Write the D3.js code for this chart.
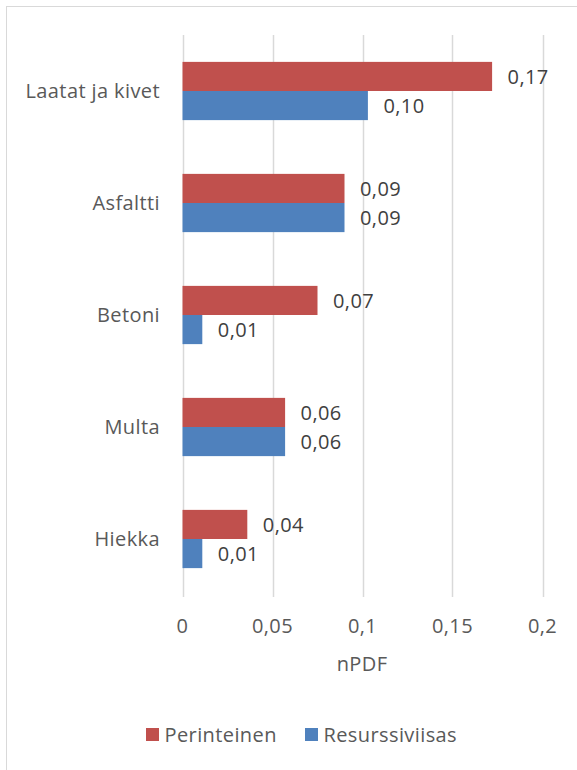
<!DOCTYPE html>
<html><head><meta charset="utf-8">
<script src="https://cdn.jsdelivr.net/npm/d3@7"></script>
<style>body{margin:0;background:#fff;} svg{display:block;}</style>
</head><body>
<script>
const categories = ["Laatat ja kivet", "Asfaltti", "Betoni", "Multa", "Hiekka"];
const perinteinen = [0.172, 0.090, 0.075, 0.057, 0.036];
const resurssiviisas = [0.103, 0.090, 0.011, 0.057, 0.011];
const perLabels = ["0,17", "0,09", "0,07", "0,06", "0,04"];
const resLabels = ["0,10", "0,09", "0,01", "0,06", "0,01"];
const xTicks = [0, 0.05, 0.1, 0.15, 0.2];
const xTickLabels = ["0", "0,05", "0,1", "0,15", "0,2"];
const seriesNames = ["Perinteinen", "Resurssiviisas"];
const colors = ["#C0504D", "#4F81BD"];

const W = 577, H = 770;
const font = "'Open Sans', sans-serif";
const fs = 20;
const ls = 0.4;
const svg = d3.select("body").append("svg").attr("width", W).attr("height", H);
svg.append("rect").attr("x", 6.5).attr("y", 6.5).attr("width", 600).attr("height", 800)
  .attr("fill", "#fff").attr("stroke", "#D9D9D9").attr("stroke-width", 1);

const x = d3.scaleLinear().domain([0, 0.2]).range([182.5, 542.5]);
const y = d3.scaleBand().domain(categories).range([35, 595]).paddingInner(0.48).paddingOuter(0.24);
const ySub = d3.scaleBand().domain(seriesNames).range([0, y.bandwidth()]);

function txt(sel) {
  return sel.attr("font-family", font).attr("font-size", fs).attr("letter-spacing", ls);
}

// gridlines
svg.append("g").selectAll("line").data(xTicks).join("line")
  .attr("x1", d => Math.round(x(d)) + 0.5).attr("x2", d => Math.round(x(d)) + 0.5)
  .attr("y1", 35).attr("y2", 597).attr("stroke", "#D9D9D9").attr("stroke-width", 1.5);

// tick labels
txt(svg.append("g").selectAll("text").data(xTicks).join("text"))
  .attr("x", d => x(d)).attr("y", 633).attr("text-anchor", "middle")
  .attr("fill", "#595959")
  .text((d, i) => xTickLabels[i]);

txt(svg.append("text")).attr("x", 362).attr("y", 671).attr("text-anchor", "middle")
  .attr("fill", "#595959").text("nPDF");

// category labels
txt(svg.append("g").selectAll("text").data(categories).join("text"))
  .attr("x", 160).attr("y", d => y(d) + y.bandwidth() / 2 + 6.5).attr("text-anchor", "end")
  .attr("fill", "#595959").text(d => d);

const series = [perinteinen, resurssiviisas];
const labels = [perLabels, resLabels];
series.forEach((vals, s) => {
  const g = svg.append("g");
  g.selectAll("rect").data(categories).join("rect")
    .attr("x", x(0)).attr("y", d => y(d) + ySub(seriesNames[s]))
    .attr("width", (d, i) => x(vals[i]) - x(0)).attr("height", ySub.bandwidth())
    .attr("fill", colors[s]);
  txt(g.selectAll("text").data(categories).join("text"))
    .attr("x", (d, i) => x(vals[i]) + 15.5).attr("y", d => y(d) + ySub(seriesNames[s]) + ySub.bandwidth() / 2 + 7.5)
    .attr("fill", "#404040")
    .text((d, i) => labels[s][i]);
});

// legend
const legendX = [146, 305];
seriesNames.forEach((n, i) => {
  svg.append("rect").attr("x", legendX[i]).attr("y", 728).attr("width", 13).attr("height", 13).attr("fill", colors[i]);
  txt(svg.append("text")).attr("x", legendX[i] + 18.5).attr("y", 741.5)
    .attr("fill", "#595959").text(n);
});
</script>
</body></html>
